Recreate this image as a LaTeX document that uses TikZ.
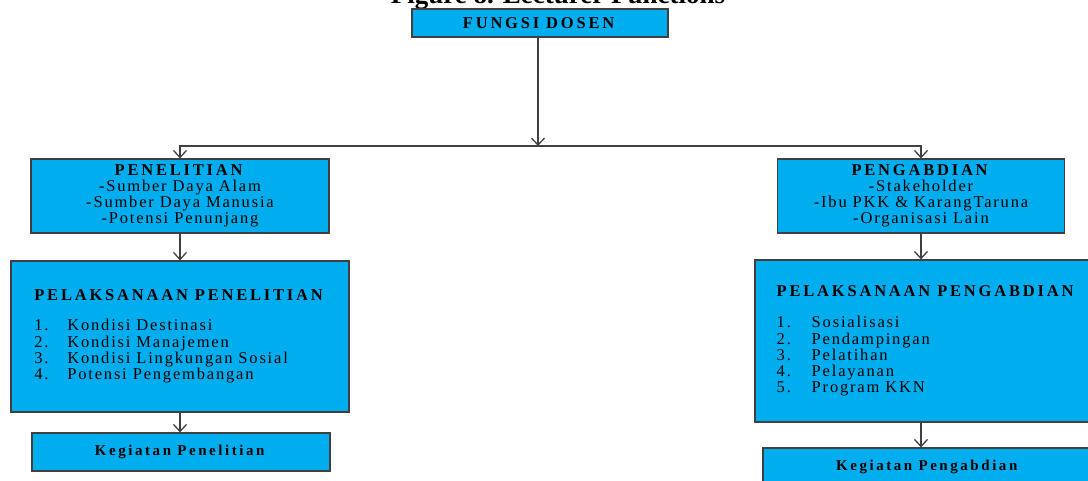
\documentclass[tikz,border=0pt]{standalone}
\usepackage{fontspec}
\setmainfont{Liberation Serif}[LetterSpace=11, BoldFeatures={LetterSpace=17}]
\newfontfamily\captionfont{Liberation Serif}
\usetikzlibrary{arrows.meta, positioning}
\definecolor{boxCyan}{RGB}{0,174,239}
\definecolor{lineGray}{gray}{0.25}

\begin{document}
\begin{tikzpicture}[x=1pt, y=-1pt, >={Straight Barb[length=7pt, width=13pt]},
    box/.style={draw=lineGray, line width=1.2pt, fill=boxCyan, inner sep=0pt,
        font=\fontsize{16.5}{16.2}\selectfont},
    smallbox/.style={box, font=\fontsize{15}{16}\selectfont},
    conn/.style={draw=lineGray, line width=1.3pt}]
    \useasboundingbox (0,0) rectangle (1088,481);

    % caption, cut at the top edge
    \node[anchor=base, font=\captionfont\fontsize{27}{30}\selectfont\bfseries] (caption) at (558,4) {Figure 8. Lecturer Functions};

    \node[box, minimum width=256pt, minimum height=28pt] (fungsi) at (540,23) {\textbf{FUNGSI DOSEN}};
    \coordinate (split) at (538,146);

    \node[box, align=center, minimum width=298pt, minimum height=74pt] (penelitian) at (180,196)
        {\textbf{PENELITIAN}\\-Sumber Daya Alam\\-Sumber Daya Manusia\\-Potensi Penunjang};
    \node[box, align=center, minimum width=287pt, minimum height=74pt] (pengabdian) at (921,196)
        {\textbf{PENGABDIAN}\\-Stakeholder\\-Ibu PKK \& KarangTaruna\\-Organisasi Lain};

    \node[box, align=left, minimum width=338pt, minimum height=151pt] (plkPenelitian) at (180,336.5)
        {\textbf{PELAKSANAAN PENELITIAN}\\[14pt]
         \makebox[33pt][l]{1.}Kondisi Destinasi\\
         \makebox[33pt][l]{2.}Kondisi Manajemen\\
         \makebox[33pt][l]{3.}Kondisi Lingkungan Sosial\\
         \makebox[33pt][l]{4.}Potensi Pengembangan};
    \node[box, align=left, minimum width=343pt, minimum height=162pt] (plkPengabdian) at (926.5,341)
        {\textbf{PELAKSANAAN PENGABDIAN}\\[15pt]
         \makebox[35pt][l]{1.}Sosialisasi\\
         \makebox[35pt][l]{2.}Pendampingan\\
         \makebox[35pt][l]{3.}Pelatihan\\
         \makebox[35pt][l]{4.}Pelayanan\\
         \makebox[35pt][l]{5.}Program KKN};

    \node[smallbox, minimum width=298pt, minimum height=38pt] (kegPenelitian) at (181,452) {\textbf{Kegiatan Penelitian}};
    \node[smallbox, minimum width=330pt, minimum height=38pt] (kegPengabdian) at (928,467) {\textbf{Kegiatan Pengabdian}};

    % connectors
    \draw[conn, ->] (fungsi.south -| split) -- (split);
    \draw[conn, ->] (split) -| (penelitian.north);
    \draw[conn, ->] (split) -| (pengabdian.north);
    \draw[conn, ->] (penelitian.south) -- (penelitian.south |- plkPenelitian.north);
    \draw[conn, ->] (pengabdian.south) -- (pengabdian.south |- plkPengabdian.north);
    \draw[conn, ->] (plkPenelitian.south -| penelitian.south) -- (penelitian.south |- kegPenelitian.north);
    \draw[conn, ->] (plkPengabdian.south -| pengabdian.south) -- (pengabdian.south |- kegPengabdian.north);
\end{tikzpicture}
\end{document}
